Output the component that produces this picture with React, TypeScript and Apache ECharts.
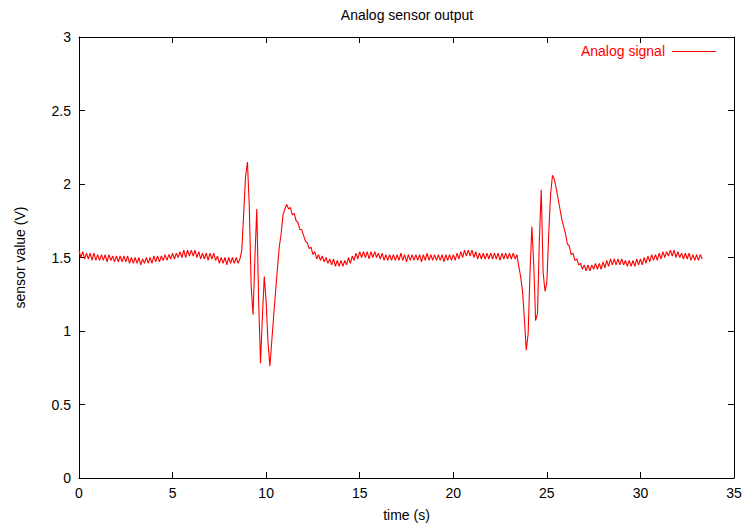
import React, { useEffect, useRef } from "react";
import * as echarts from "echarts";

const title = "Analog sensor output";
const xAxisName = "time (s)";
const yAxisName = "sensor value (V)";
const seriesName = "Analog signal";
const sampleStep = 0.1; // seconds between samples
const xTicks = [0, 5, 10, 15, 20, 25, 30, 35];
const yTicks = [0, 0.5, 1, 1.5, 2, 2.5, 3];

// sensor values, one row per second (10 samples each)
const signal: number[] = [
  1.55, 1.50, 1.54, 1.49, 1.53, 1.49, 1.53, 1.48, 1.53, 1.48,
  1.52, 1.48, 1.52, 1.48, 1.52, 1.47, 1.52, 1.48, 1.51, 1.47,
  1.51, 1.47, 1.51, 1.47, 1.51, 1.47, 1.51, 1.46, 1.50, 1.46,
  1.50, 1.46, 1.50, 1.45, 1.49, 1.46, 1.50, 1.46, 1.50, 1.46,
  1.51, 1.47, 1.51, 1.47, 1.51, 1.48, 1.52, 1.48, 1.52, 1.49,
  1.53, 1.49, 1.53, 1.50, 1.54, 1.50, 1.55, 1.50, 1.55, 1.51,
  1.55, 1.51, 1.55, 1.50, 1.54, 1.49, 1.53, 1.49, 1.53, 1.48,
  1.53, 1.49, 1.53, 1.48, 1.51, 1.46, 1.50, 1.46, 1.50, 1.45,
  1.50, 1.46, 1.50, 1.46, 1.50, 1.46, 1.49, 1.55, 1.80, 2.05,
  2.15, 1.85, 1.30, 1.11, 1.50, 1.83, 1.20, 0.78, 1.10, 1.37,
  1.20, 0.92, 0.76, 0.93, 1.10, 1.26, 1.42, 1.57, 1.66, 1.79,
  1.83, 1.86, 1.83, 1.84, 1.79, 1.80, 1.75, 1.74, 1.69, 1.69,
  1.65, 1.61, 1.60, 1.56, 1.57, 1.52, 1.54, 1.49, 1.52, 1.48,
  1.51, 1.47, 1.50, 1.46, 1.49, 1.45, 1.49, 1.44, 1.48, 1.44,
  1.48, 1.44, 1.48, 1.45, 1.50, 1.46, 1.51, 1.48, 1.53, 1.49,
  1.54, 1.50, 1.54, 1.50, 1.54, 1.49, 1.54, 1.50, 1.54, 1.50,
  1.53, 1.49, 1.53, 1.48, 1.52, 1.48, 1.52, 1.48, 1.52, 1.48,
  1.52, 1.48, 1.53, 1.48, 1.52, 1.47, 1.52, 1.48, 1.52, 1.48,
  1.52, 1.48, 1.52, 1.47, 1.52, 1.48, 1.53, 1.48, 1.52, 1.48,
  1.52, 1.48, 1.52, 1.48, 1.52, 1.47, 1.52, 1.48, 1.52, 1.48,
  1.52, 1.48, 1.53, 1.49, 1.54, 1.50, 1.55, 1.51, 1.55, 1.51,
  1.55, 1.50, 1.54, 1.49, 1.53, 1.49, 1.53, 1.49, 1.53, 1.49,
  1.53, 1.49, 1.53, 1.49, 1.53, 1.48, 1.53, 1.49, 1.53, 1.49,
  1.53, 1.49, 1.53, 1.49, 1.52, 1.44, 1.37, 1.27, 1.08, 0.87,
  0.98, 1.40, 1.71, 1.45, 1.07, 1.12, 1.62, 1.96, 1.40, 1.27,
  1.33, 1.66, 1.93, 2.06, 2.03, 1.97, 1.90, 1.83, 1.76, 1.71,
  1.66, 1.59, 1.58, 1.52, 1.53, 1.48, 1.49, 1.45, 1.46, 1.42,
  1.45, 1.41, 1.45, 1.41, 1.45, 1.42, 1.46, 1.42, 1.46, 1.42,
  1.47, 1.43, 1.48, 1.44, 1.49, 1.45, 1.49, 1.45, 1.49, 1.45,
  1.49, 1.45, 1.48, 1.44, 1.48, 1.44, 1.48, 1.44, 1.49, 1.45,
  1.49, 1.45, 1.50, 1.46, 1.51, 1.47, 1.52, 1.48, 1.52, 1.48,
  1.53, 1.49, 1.54, 1.50, 1.54, 1.51, 1.55, 1.51, 1.55, 1.50,
  1.54, 1.50, 1.53, 1.49, 1.53, 1.49, 1.53, 1.48, 1.52, 1.48,
  1.52, 1.48, 1.52, 1.49,
];

const FONT = "Liberation Sans, Arial, sans-serif";
const FS = 14;

export default function App() {
  const ref = useRef<HTMLDivElement>(null);
  useEffect(() => {
    if (!ref.current) return;
    const chart = echarts.init(ref.current, null, { renderer: "svg" });
    const data = signal.map((v, i) => [Math.round(i * sampleStep * 10) / 10, v]);
    const xMin = xTicks[0];
    const xMax = xTicks[xTicks.length - 1];
    const xInt = xTicks[1] - xTicks[0];
    const yMin = yTicks[0];
    const yMax = yTicks[yTicks.length - 1];
    const yInt = yTicks[1] - yTicks[0];
    const axisLine = { show: true, onZero: false, lineStyle: { color: "#000", width: 1 } };
    const tick = { show: true, inside: true, length: 6, lineStyle: { color: "#000" } };
    chart.setOption({
      animation: false,
      backgroundColor: "#fff",
      textStyle: { fontFamily: FONT },
      graphic: [
        {
          type: "text",
          x: 407,
          y: 15,
          style: {
            text: title,
            fill: "#000",
            font: `${FS}px ${FONT}`,
            textAlign: "center",
            textVerticalAlign: "middle",
          },
        },
        {
          type: "text",
          x: 665,
          y: 51,
          style: {
            text: seriesName,
            fill: "#ff0000",
            font: `${FS}px ${FONT}`,
            textAlign: "right",
            textVerticalAlign: "middle",
          },
        },
        {
          type: "line",
          shape: { x1: 672, y1: 51.5, x2: 716, y2: 51.5 },
          style: { stroke: "#ff0000", lineWidth: 1 },
        },
      ],
      grid: { left: 79, right: 12, top: 37, bottom: 51, containLabel: false },
      xAxis: [
        {
          type: "value",
          min: xMin,
          max: xMax,
          interval: xInt,
          name: xAxisName,
          nameLocation: "middle",
          nameGap: 30,
          nameTextStyle: { fontSize: FS, color: "#000", fontFamily: FONT },
          axisLine,
          axisTick: tick,
          splitLine: { show: false },
          axisLabel: { color: "#000", fontSize: FS, margin: 8, fontFamily: FONT },
        },
        {
          type: "value",
          position: "top",
          min: xMin,
          max: xMax,
          interval: xInt,
          axisLine,
          axisTick: tick,
          splitLine: { show: false },
          axisLabel: { show: false },
        },
      ],
      yAxis: [
        {
          type: "value",
          min: yMin,
          max: yMax,
          interval: yInt,
          name: yAxisName,
          nameLocation: "middle",
          nameGap: 52,
          nameTextStyle: { fontSize: FS, color: "#000", fontFamily: FONT },
          axisLine,
          axisTick: tick,
          splitLine: { show: false },
          axisLabel: { color: "#000", fontSize: FS, margin: 8, fontFamily: FONT },
        },
        {
          type: "value",
          position: "right",
          min: yMin,
          max: yMax,
          interval: yInt,
          axisLine,
          axisTick: tick,
          splitLine: { show: false },
          axisLabel: { show: false },
        },
      ],
      series: [
        {
          name: seriesName,
          type: "line",
          xAxisIndex: 0,
          yAxisIndex: 0,
          data,
          symbol: "none",
          lineStyle: { color: "#ff0000", width: 1.1 },
          itemStyle: { color: "#ff0000" },
        },
      ],
    });
    return () => chart.dispose();
  }, []);
  return <div ref={ref} style={{ width: 746, height: 529, position: "absolute", left: 0, top: 0 }} />;
}
